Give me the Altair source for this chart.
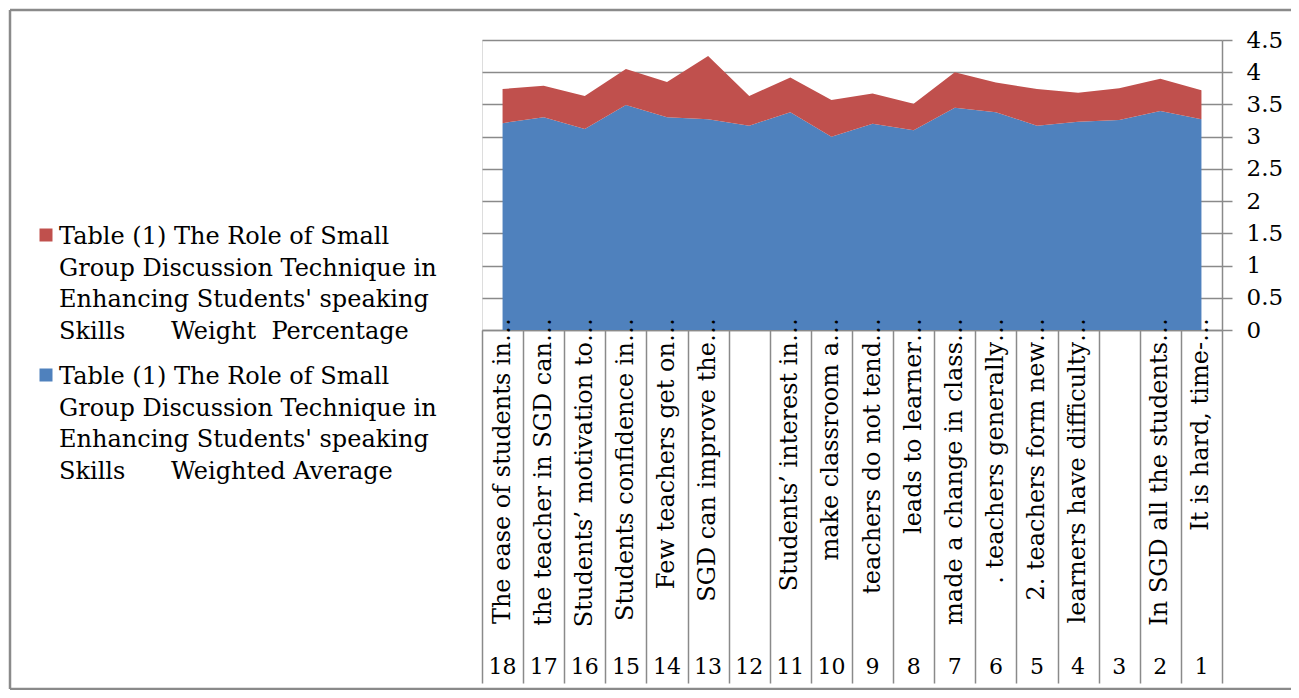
import altair as alt
import pandas as pd

# ---- data (left to right on the chart) ----
numbers = ["18", "17", "16", "15", "14", "13", "12", "11", "10", "9",
           "8", "7", "6", "5", "4", "3", "2", "1"]
labels = ["The ease of students in\u2026", "the teacher in SGD can\u2026",
          "Students\u2019 motivation to\u2026", "Students confidence in\u2026",
          "Few teachers get on\u2026", "SGD can improve the\u2026", "",
          "Students\u2019 interest in\u2026", "make classroom a\u2026",
          "teachers do not tend\u2026", "leads to learner\u2026",
          "made a change in class\u2026", ". teachers generally\u2026",
          "2. teachers form new\u2026", "learners have difficulty\u2026", "",
          "In SGD all the students\u2026", "It is hard, time-\u2026"]
weighted_average = [3.21, 3.30, 3.12, 3.49, 3.30, 3.27, 3.17, 3.38, 3.00,
                    3.20, 3.10, 3.45, 3.38, 3.17, 3.23, 3.26, 3.40, 3.27]
weight_percentage = [0.53, 0.49, 0.51, 0.56, 0.55, 0.98, 0.46, 0.54, 0.57,
                     0.47, 0.41, 0.55, 0.46, 0.57, 0.45, 0.49, 0.50, 0.45]

NB = "\u00a0"
series_pct = "Table (1) The Role of Small\nGroup Discussion Technique in\nEnhancing Students' speaking\nSkills" + NB * 6 + "Weight" + NB * 2 + "Percentage"
series_avg = "Table (1) The Role of Small\nGroup Discussion Technique in\nEnhancing Students' speaking\nSkills" + NB * 6 + "Weighted Average"
BLUE = "#4F81BD"
RED = "#C0504D"
GRID = "#8A8A8A"
FONT = "DejaVu Serif"

rows = []
for i, n in enumerate(numbers):
    rows.append({"pos": i + 0.5, "series": "avg", "value": weighted_average[i], "ord": 0})
    rows.append({"pos": i + 0.5, "series": "pct", "value": weight_percentage[i], "ord": 1})
df = pd.DataFrame(rows)
df_lab = pd.DataFrame({"pos": [i + 0.5 for i in range(len(numbers))],
                       "label": labels, "num": numbers})

xscale = alt.Scale(domain=[0, 18], nice=False, zero=False)

area = alt.Chart(df).mark_area(interpolate="linear", opacity=1).encode(
    x=alt.X("pos:Q", scale=xscale,
            axis=alt.Axis(values=list(range(19)), labels=False, grid=False,
                          tickSize=353, tickColor=GRID, tickWidth=1.5,
                          domainColor=GRID, domainWidth=1.5, title=None)),
    y=alt.Y("value:Q", stack="zero",
            scale=alt.Scale(domain=[0, 4.5], nice=False),
            axis=alt.Axis(orient="right", values=[0, 0.5, 1, 1.5, 2, 2.5, 3, 3.5, 4, 4.5],
                          format="~g", grid=True, gridColor=GRID, gridWidth=1.5,
                          tickColor=GRID, tickWidth=1.5, tickSize=10,
                          domainColor=GRID, domainWidth=1.5,
                          labelFont=FONT, labelFontSize=23, labelColor="black",
                          labelPadding=14, title=None)),
    color=alt.Color("series:N", scale=alt.Scale(domain=["avg", "pct"], range=[BLUE, RED]),
                    legend=None),
    order=alt.Order("ord:Q"),
)

cat_labels = alt.Chart(df_lab).mark_text(
    angle=270, align="right", baseline="middle", font=FONT, fontSize=24, color="black"
).encode(x=alt.X("pos:Q", scale=xscale), y=alt.value(278), text="label:N")

cat_nums = alt.Chart(df_lab).mark_text(
    align="center", baseline="middle", font=FONT, fontSize=22, color="black"
).encode(x=alt.X("pos:Q", scale=xscale), y=alt.value(627), text="num:N")

one = pd.DataFrame({"a": [0]})

def legend_entry(text, color, y_top):
    sq = alt.Chart(one).mark_square(size=169, opacity=1).encode(
        x=alt.value(-436), y=alt.value(y_top + 10), color=alt.value(color))
    tx = alt.Chart(one).mark_text(
        align="left", baseline="top", font=FONT, fontSize=24, color="black",
        lineBreak="\n", lineHeight=31.5, text=text
    ).encode(x=alt.value(-423), y=alt.value(y_top))
    return sq + tx

leg1 = legend_entry(series_pct, RED, 185)
leg2 = legend_entry(series_avg, BLUE, 325)

border_left = alt.Chart(one).mark_rule(color=GRID, strokeWidth=2.5).encode(
    x=alt.value(-472), y=alt.value(-30), y2=alt.value(649))
border_top = alt.Chart(one).mark_rule(color=GRID, strokeWidth=2.5).encode(
    x=alt.value(-472), x2=alt.value(812), y=alt.value(-30))
border_bottom = alt.Chart(one).mark_rule(color=GRID, strokeWidth=2.5).encode(
    x=alt.value(-472), x2=alt.value(812), y=alt.value(649))

chart = alt.layer(
    area, cat_labels, cat_nums, leg1, leg2, border_left, border_top, border_bottom
).properties(
    width=740, height=290,
    autosize=alt.AutoSizeParams(type="none"),
    padding={"left": 474, "top": 32, "right": 69, "bottom": 360},
).configure_view(stroke=None).configure(background="white")

chart.save("out.html", embed_options={"renderer": "svg", "actions": False})
